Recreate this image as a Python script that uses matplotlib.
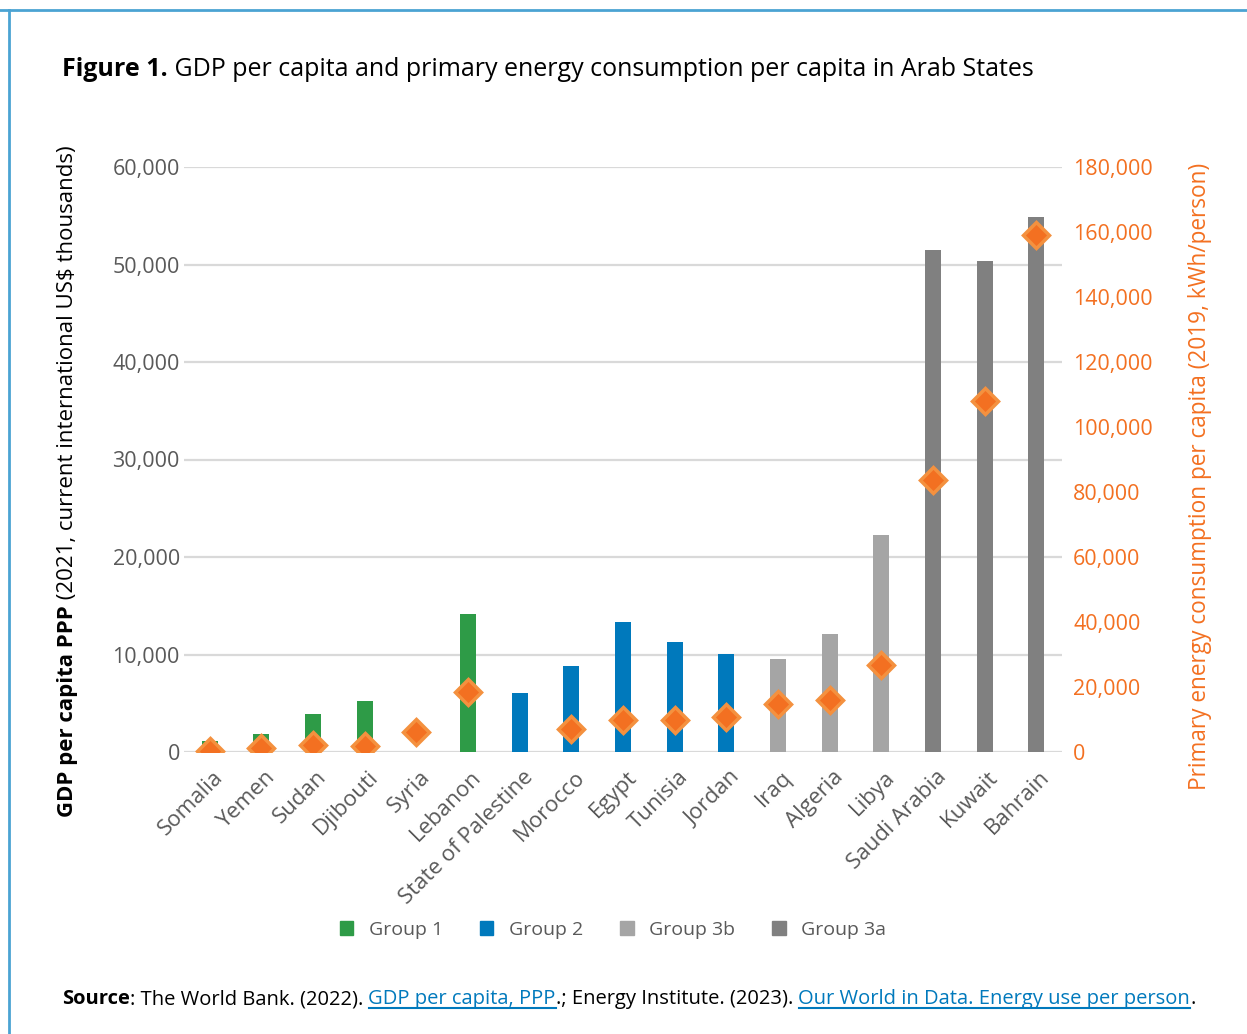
import numpy as np
import matplotlib
matplotlib.use("Agg")
from matplotlib import pyplot as plt
from matplotlib.patches import Patch
from matplotlib.lines import Line2D
import matplotlib.transforms as mtransforms

plt.rcParams['font.family'] = ['Open Sans', 'DejaVu Sans']

# countries, ordered by group then GDP
countries = ['Somalia', 'Yemen', 'Sudan', 'Djibouti', 'Syria', 'Lebanon',
             'State of Palestine', 'Morocco', 'Egypt', 'Tunisia', 'Jordan',
             'Iraq', 'Algeria', 'Libya', 'Saudi Arabia', 'Kuwait', 'Bahrain']
groups = ['Group 1'] * 6 + ['Group 2'] * 5 + ['Group 3b'] * 3 + ['Group 3a'] * 3

# GDP per capita PPP (2021, current international US$)
gdp = [1150, 1850, 3900, 5250, 0, 14200, 6050, 8850, 13350, 11300, 10100,
       9560, 12130, 22300, 51500, 50400, 54900]

# primary energy per capita (2019, kWh/person); None = no data
energy = [300, 1200, 2200, 2000, 6150, 18400, None, 7100, 9850, 9800, 10800,
          14800, 16000, 26700, 83700, 108000, 159200]

group_colors = {'Group 1': '#2E9B47', 'Group 2': '#0079BC',
                'Group 3b': '#A5A5A5', 'Group 3a': '#808080'}
orange = '#F37021'
grey_txt = '#595959'

fig = plt.figure(figsize=(12.47, 10.34), dpi=100)

# frame lines (top and left)
fig.add_artist(Line2D([0, 1], [1 - 10 / 1034] * 2, color='#4BA3D3', lw=2))
fig.add_artist(Line2D([9 / 1247] * 2, [0, 1 - 10 / 1034], color='#4BA3D3', lw=2))

ax = fig.add_axes([184 / 1247, 1 - 752 / 1034, (1062 - 184) / 1247, (752 - 167) / 1034])
x = np.arange(len(countries))
ax.bar(x, gdp, width=0.31, color=[group_colors[g] for g in groups], zorder=2)
ax.set_ylim(0, 60000)
ax.set_xlim(-0.5, len(countries) - 0.5)
ax.set_yticks(np.arange(0, 60001, 10000))
ax.set_yticklabels([f'{v:,}' for v in range(0, 60001, 10000)])
ax.grid(axis='y', color='#D9D9D9', lw=1.6, zorder=0)
ax.set_axisbelow(True)
for s in ax.spines.values():
    s.set_visible(False)
ax.tick_params(axis='y', length=0, pad=3, labelsize=15.5, labelcolor=grey_txt)
ax.tick_params(axis='x', length=0, pad=2)
ax.set_xticks(x)
ax.set_xticklabels(countries, rotation=45, ha='right', rotation_mode='anchor',
                   fontsize=16, color=grey_txt)
offset = mtransforms.ScaledTranslation(3 / 100, -12 / 100, fig.dpi_scale_trans)
for lab in ax.get_xticklabels():
    lab.set_transform(lab.get_transform() + offset)

ax2 = ax.twinx()
ax2.set_ylim(0, 180000)
ax2.set_yticks(np.arange(0, 180001, 20000))
ax2.set_yticklabels([f'{v:,}' for v in range(0, 180001, 20000)])
ax2.tick_params(axis='y', length=0, pad=8, labelsize=15.5, labelcolor=orange)
for s in ax2.spines.values():
    s.set_visible(False)
ex = [i for i, e in enumerate(energy) if e is not None]
ey = [e for e in energy if e is not None]
ax2.plot(ex, ey, ls='none', marker='D', markersize=13, color=orange,
         markeredgecolor='#F4913F', markeredgewidth=2.5, zorder=3)

# legend
handles = [Patch(color=group_colors[g], label=g) for g in ['Group 1', 'Group 2', 'Group 3b', 'Group 3a']]
fig.legend(handles=handles, loc='center', bbox_to_anchor=(613 / 1247, 1 - 930 / 1034),
           ncol=4, frameon=False, fontsize=14, handlelength=0.7, handleheight=0.7,
           handletextpad=0.8, columnspacing=1.9, labelcolor=grey_txt)

fig.canvas.draw()
renderer = fig.canvas.get_renderer()


def run_text(parts, x0, y0, size, rotation=0):
    """Write a sequence of (text, weight, color, underline) pieces one after another."""
    pos = x0 if rotation == 0 else y0
    for txt, weight, color, underline in parts:
        if rotation == 0:
            t = fig.text(pos, y0, txt, fontsize=size, fontweight=weight, color=color,
                         ha='left', va='baseline', transform=None)
        else:
            t = fig.text(x0, pos, txt, fontsize=size, fontweight=weight, color=color,
                         ha='center', va='bottom', rotation=90, transform=None)
        bb = t.get_window_extent(renderer)
        if rotation == 0:
            if underline:
                fig.add_artist(Line2D([bb.x0, bb.x1], [y0 - 4, y0 - 4], color=color,
                                      lw=1.5, transform=None))
            pos = bb.x1
        else:
            pos = bb.y1


H = 1034
# title
run_text([('Figure 1.', 'bold', 'black', False),
          (' GDP per capita and primary energy consumption per capita in Arab States', 'normal', 'black', False)],
         62, H - 76, 18)

# left axis label
run_text([('GDP per capita PPP', 'bold', 'black', False),
          (' (2021, current international US$ thousands)', 'normal', 'black', False)],
         68, H - 817, 16, rotation=90)

# right axis label
fig.text(1200 / 1247, 1 - 476 / 1034, 'Primary energy consumption per capita (2019, kWh/person)',
         rotation=90, ha='center', va='center', fontsize=16.3, color=orange)

# source line
link = '#0079BC'
run_text([('Source', 'bold', 'black', False),
          (': The World Bank. (2022). ', 'normal', 'black', False),
          ('GDP per capita, PPP', 'normal', link, True),
          ('.; Energy Institute. (2023). ', 'normal', 'black', False),
          ('Our World in Data. Energy use per person', 'normal', link, True),
          ('.', 'normal', 'black', False)],
         62, H - 1004, 14.5)

fig.savefig('out.png', dpi=100)
